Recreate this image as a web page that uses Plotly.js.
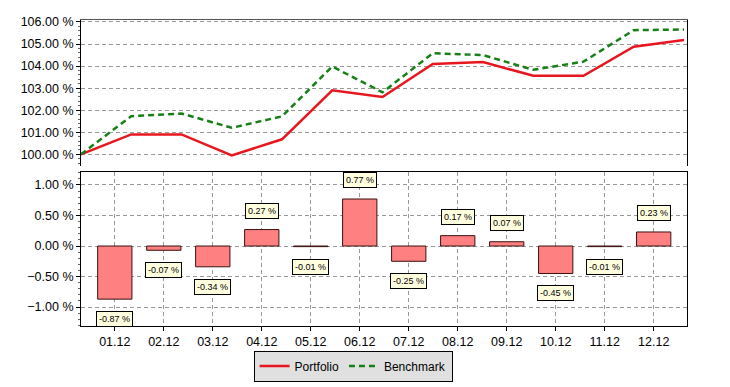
<!DOCTYPE html>
<html>
<head>
<meta charset="utf-8">
<script src="https://cdn.plot.ly/plotly-3.0.1.min.js"></script>
<style>html,body{margin:0;padding:0;background:#fff;}#chart{width:730px;height:387px;}</style>
</head>
<body>
<div id="chart"></div>
<script>
// Month labels for the bar panel
const months = ['01.12','02.12','03.12','04.12','05.12','06.12','07.12','08.12','09.12','10.12','11.12','12.12'];
// Cumulative index values (start + 12 month ends)
const portfolio = [100.00, 100.90, 100.90, 99.95, 100.68, 102.90, 102.60, 104.10, 104.18, 103.56, 103.56, 104.88, 105.18];
const benchmark = [100.00, 101.73, 101.85, 101.20, 101.72, 103.98, 102.81, 104.58, 104.50, 103.83, 104.20, 105.63, 105.66];
// Monthly relative performance (%)
const relative = [-0.87, -0.07, -0.34, 0.27, -0.01, 0.77, -0.25, 0.17, 0.07, -0.45, -0.01, 0.23];

const steps = portfolio.map((_, i) => i);
const FONT = 'Liberation Sans, Arial, sans-serif';
const gridDash = '4px,3px';

const traces = [
  {x: steps, y: portfolio, type: 'scatter', mode: 'lines', name: 'Portfolio',
   line: {color: 'rgb(232,22,30)', width: 2.5}, xaxis: 'x', yaxis: 'y'},
  {x: steps, y: benchmark, type: 'scatter', mode: 'lines', name: 'Benchmark',
   line: {color: 'rgb(22,128,22)', width: 2.5, dash: '6px,4px'}, xaxis: 'x', yaxis: 'y'},
  {x: months, y: relative, type: 'bar', name: 'Relative', showlegend: false,
   width: 0.7, marker: {color: '#ff8080', line: {color: '#3a1010', width: 1}},
   xaxis: 'x2', yaxis: 'y2', hoverinfo: 'x+y'}
];

// category index positions (month strings like "01.12" would be read as numbers)
const annotations = relative.map((v, i) => ({
  x: i, y: v, xref: 'x2', yref: 'y2',
  text: v.toFixed(2) + ' %', showarrow: false,
  yshift: v >= 0 ? 19 : -20,
  font: {family: FONT, size: 9, color: '#000'},
  bgcolor: '#ffffe0', bordercolor: '#000', borderwidth: 1, borderpad: 2
}));

const layout = {
  width: 730, height: 387,
  margin: {l: 81, r: 43, t: 20, b: 61, autoexpand: false},
  paper_bgcolor: '#fff', plot_bgcolor: '#fff',
  font: {family: FONT, size: 12, color: '#000'},
  showlegend: true,
  legend: {orientation: 'h', x: 0.449, xanchor: 'center', y: -0.131, yanchor: 'middle',
           bgcolor: '#e0e0e0', bordercolor: '#000', borderwidth: 1,
           font: {family: FONT, size: 12, color: '#000'}, itemwidth: 30,
           tracegroupgap: 0},
  xaxis: {domain: [0, 1], anchor: 'y', range: [0, 12.06], side: 'top',
          showline: true, linecolor: '#555', linewidth: 1.5, showgrid: false,
          showticklabels: false, ticks: '', zeroline: false, fixedrange: true},
  yaxis: {domain: [0.523, 1], anchor: 'x', range: [99.47, 106.09],
          dtick: 1, tick0: 100, tickformat: '.2f', ticksuffix: ' %',
          showline: true, linecolor: '#000', linewidth: 1, mirror: true,
          ticks: 'outside', ticklen: 4, tickcolor: '#000',
          minor: {dtick: 0.2, ticks: 'outside', ticklen: 2, tickcolor: '#666', showgrid: false},
          showgrid: true, gridcolor: '#999', griddash: gridDash, gridwidth: 1,
          zeroline: false, tickfont: {size: 12.5}},
  xaxis2: {domain: [0, 1], anchor: 'y2', type: 'category', range: [-0.69, 11.68],
           showline: true, linecolor: '#000', linewidth: 1, mirror: true,
           ticks: 'outside', ticklen: 4, tickcolor: '#000',
           showgrid: true, gridcolor: '#999', griddash: gridDash, gridwidth: 1,
           zeroline: false, tickfont: {size: 12.5}},
  yaxis2: {domain: [0, 0.503], anchor: 'x2', range: [-1.31, 1.211],
           dtick: 0.5, tick0: 0, tickformat: '.2f', ticksuffix: ' %',
           showline: true, linecolor: '#000', linewidth: 1, mirror: true,
           ticks: 'outside', ticklen: 4, tickcolor: '#000',
           minor: {dtick: 0.1, ticks: 'outside', ticklen: 2, tickcolor: '#666', showgrid: false},
           showgrid: true, gridcolor: '#999', griddash: gridDash, gridwidth: 1,
           zeroline: false, tickfont: {size: 12.5}},
  annotations: annotations
};

Plotly.newPlot('chart', traces, layout, {displayModeBar: false, staticPlot: true});
</script>
</body>
</html>
